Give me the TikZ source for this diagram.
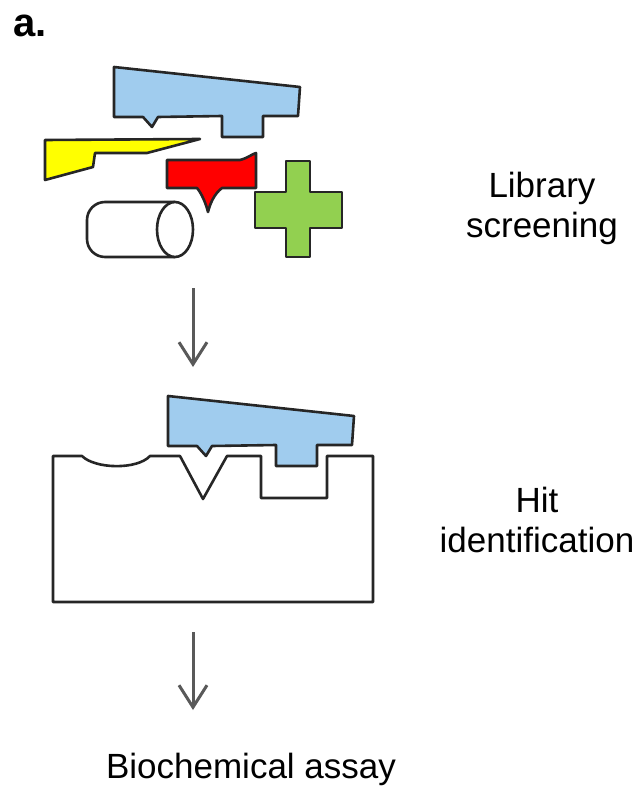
\documentclass[tikz,border=0pt]{standalone}
\usepackage{fontspec}
\setmainfont{Liberation Sans}
\usetikzlibrary{arrows.meta}
\definecolor{ligblue}{RGB}{160,204,238}
\definecolor{fragyellow}{RGB}{255,255,0}
\definecolor{fragred}{RGB}{255,0,0}
\definecolor{fraggreen}{RGB}{146,208,80}

\begin{document}
\begin{tikzpicture}[x=1pt,y=-1pt,
part/.style = {draw=black!85, line width=2.6pt, line join=round},
lbl/.style = {font=\fontsize{35}{40}\selectfont, align=center},
flow/.style = {draw=black!65, line width=3pt, -{Straight Barb[length=22pt,width=28pt]}},
ligand/.pic = {\path[part, fill=ligblue] (0,0) -- (186,20) -- (184,49) -- (149,49)
    -- (149,70) -- (108,70) -- (108,49) -- (44,50) -- (38,60) -- (29,50) -- (0,50) -- cycle;}]
\useasboundingbox (0,0) rectangle (642,786);
\node[anchor=base west, font=\fontsize{40}{44}\selectfont\bfseries] (tag) at (10,37) {a.};

% library of fragments
\path[part, fill=fragyellow] (45,140) -- (200,139) -- (147,153) -- (95,153) -- (93,167) -- (45,180) -- cycle;
\pic at (114,67) {ligand};
\path[part, fill=fragred] (167,160) -- (240,160) .. controls (248,158) and (252,154) .. (256,153)
    -- (256,188) -- (222,188) .. controls (214,194) and (210,204) .. (208,212)
    .. controls (206,204) and (202,194) .. (197,188) -- (167,188) -- cycle;
\path[part, fill=fraggreen] (286,161) -- (310,161) -- (310,192) -- (342,192) -- (342,228) -- (310,228)
    -- (310,257) -- (286,257) -- (286,228) -- (255,228) -- (255,192) -- (286,192) -- cycle;
\path[part, fill=white, rounded corners=18pt] (175,202) -- (87,202) -- (87,257) -- (175,257);
\path[part, fill=white] (175,229.5) ellipse [x radius=18pt, y radius=27.5pt];
\node[lbl] (lib) at (542,208) {Library\\screening};

% target with bound hit
\path[part, fill=white] (53,456) -- (82,456) .. controls (95,469) and (137,470) .. (150,456) -- (180,456)
    -- (203,499) -- (227,456) -- (261,456) -- (261,498) -- (327,498) -- (327,456) -- (373,456)
    -- (373,602) -- (53,602) -- cycle;
\pic at (168,396) {ligand};
\node[lbl] (hit) at (537,520) {Hit\\identification};

\node[lbl, anchor=base] (assay) at (251,778) {Biochemical assay};

\coordinate (s1) at (193,288);
\coordinate (e1) at (193,367);
\coordinate (s2) at (193,632);
\coordinate (e2) at (193,710);
\draw[flow] (s1) -- (e1);
\draw[flow] (s2) -- (e2);
\end{tikzpicture}
\end{document}
